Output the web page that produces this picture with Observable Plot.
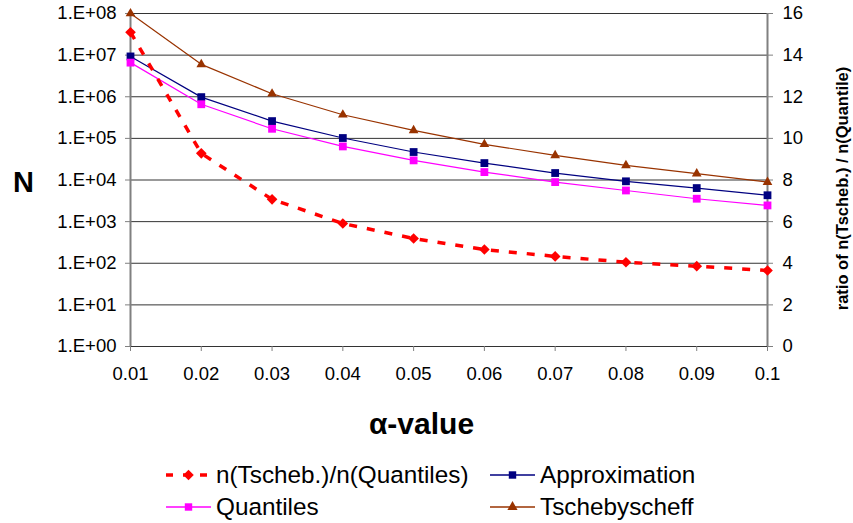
<!DOCTYPE html>
<html><head><meta charset="utf-8">
<script src="https://cdn.jsdelivr.net/npm/d3@7"></script>
<script src="https://cdn.jsdelivr.net/npm/@observablehq/plot@0.6"></script>
<style>
body{margin:0;background:#fff;font-family:"Liberation Sans",Arial,sans-serif;}
#legend{position:relative;height:83px;width:853px;}
.item{position:absolute;display:flex;align-items:center;height:30px;font-size:24.3px;color:#000;white-space:nowrap;}
.item svg{margin-right:5px;}
</style></head><body>
<div id="chart"></div>
<div id="legend"></div>
<script>
// categories
const alphas = [0.01, 0.02, 0.03, 0.04, 0.05, 0.06, 0.07, 0.08, 0.09, 0.1];
const xLabels = ["0.01","0.02","0.03","0.04","0.05","0.06","0.07","0.08","0.09","0.1"];
// series (left log axis)
const tscheb = [1e8, 6.0e6, 1.18e6, 3.7e5, 1.55e5, 7.2e4, 3.9e4, 2.24e4, 1.42e4, 8.9e3];
const approx = [9.3e6, 9.8e5, 2.6e5, 1.02e5, 4.7e4, 2.55e4, 1.47e4, 9.3e3, 6.4e3, 4.3e3];
const quant  = [6.6e6, 6.6e5, 1.7e5, 6.4e4, 2.96e4, 1.55e4, 8.9e3, 5.6e3, 3.55e3, 2.45e3];
// series (right linear axis)
const ratio  = [15.1, 9.28, 7.07, 5.91, 5.19, 4.66, 4.33, 4.05, 3.86, 3.65];
// tick values / labels
const leftTicks = [1, 10, 100, 1e3, 1e4, 1e5, 1e6, 1e7, 1e8];
const leftTickLabels = ["1.E+00","1.E+01","1.E+02","1.E+03","1.E+04","1.E+05","1.E+06","1.E+07","1.E+08"];
const rightTicks = [0, 2, 4, 6, 8, 10, 12, 14, 16];
const rightTickLabels = ["0","2","4","6","8","10","12","14","16"];
const rightMax = 16;

// map the secondary (linear 0..16) axis onto the primary log (1..1e8) scale
const toLeft = v => Math.pow(10, v * 8 / rightMax);

const rows = alphas.map((a, i) => ({a, tscheb: tscheb[i], approx: approx[i], quant: quant[i], ratio: ratio[i]}));
const rightTickPos = rightTicks.map(toLeft);

const C = {tscheb: "#993300", approx: "#000080", quant: "#FF00FF", ratio: "#FF0000"};
const font = '"Liberation Sans", Arial, sans-serif';

const chart = Plot.plot({
  width: 853, height: 440,
  marginLeft: 130, marginRight: 86, marginTop: 13, marginBottom: 94,
  style: {fontFamily: font, fontSize: "18px", color: "#000", background: "#fff"},
  x: {type: "linear", domain: [alphas[0], alphas[alphas.length - 1]]},
  y: {type: "log", domain: [leftTicks[0], leftTicks[leftTicks.length - 1]]},
  marks: [
    Plot.gridY(leftTicks, {stroke: "#000", strokeOpacity: 0.8, strokeWidth: 1}),
    Plot.ruleX([alphas[0], alphas[alphas.length - 1]], {stroke: "#808080", strokeWidth: 2}),
    Plot.axisY({anchor: "left", ticks: leftTicks, tickFormat: d => leftTickLabels[leftTicks.indexOf(d)],
      tickSize: 5, tickPadding: 9, label: null, stroke: "#808080", fontSize: 18.5}),
    Plot.axisY({anchor: "right", ticks: rightTickPos, tickFormat: d => rightTickLabels[rightTickPos.indexOf(d)],
      tickSize: 5, tickPadding: 10, label: null, stroke: "#808080", fontSize: 18.5}),
    Plot.axisX({ticks: alphas, tickFormat: d => xLabels[alphas.indexOf(d)],
      tickSize: 5, tickPadding: 15, label: null, stroke: "#808080", fontSize: 18.5}),
    // Tschebyscheff
    Plot.line(rows, {x: "a", y: "tscheb", stroke: C.tscheb, strokeWidth: 1.2}),
    Plot.dot(rows, {x: "a", y: "tscheb", symbol: "triangle", r: 3.6, fill: C.tscheb}),
    // Approximation
    Plot.line(rows, {x: "a", y: "approx", stroke: C.approx, strokeWidth: 1.2}),
    Plot.dot(rows, {x: "a", y: "approx", symbol: "square", r: 4.4, fill: C.approx}),
    // Quantiles
    Plot.line(rows, {x: "a", y: "quant", stroke: C.quant, strokeWidth: 1.2}),
    Plot.dot(rows, {x: "a", y: "quant", symbol: "square", r: 4.4, fill: C.quant}),
    // ratio (secondary axis)
    Plot.line(rows, {x: "a", y: d => toLeft(d.ratio), stroke: C.ratio, strokeWidth: 3.5,
      strokeDasharray: "8,10", strokeLinecap: "butt"}),
    Plot.dot(rows, {x: "a", y: d => toLeft(d.ratio), symbol: "diamond2", r: 4.8, fill: C.ratio}),
    // titles
    Plot.text(["N"], {text: d => d, frameAnchor: "left", textAnchor: "middle", lineAnchor: "middle",
      dx: -107, dy: 2.5, fontSize: 29, fontWeight: "bold"}),
    Plot.text(["α-value"], {text: d => d, frameAnchor: "bottom", textAnchor: "middle", lineAnchor: "middle",
      dx: -27.5, dy: 78, fontSize: 30, fontWeight: "bold"}),
    Plot.text(["ratio of n(Tscheb.) / n(Quantile)"], {text: d => d, frameAnchor: "right", textAnchor: "middle",
      lineAnchor: "middle", rotate: -90, dx: 75, dy: 8.5, fontSize: 16.5, fontWeight: "bold"})
  ]
});
document.getElementById("chart").appendChild(chart);

// legend
const legendItems = [
  {label: "n(Tscheb.)/n(Quantiles)", color: C.ratio, symbol: d3.symbolDiamond2, size: 70, dash: "7,10", width: 3.5, left: 166, top: 20},
  {label: "Approximation", color: C.approx, symbol: d3.symbolSquare, size: 55, dash: null, width: 1.5, left: 490, top: 20},
  {label: "Quantiles", color: C.quant, symbol: d3.symbolSquare, size: 55, dash: null, width: 1.5, left: 166, top: 51.5},
  {label: "Tschebyscheff", color: C.tscheb, symbol: d3.symbolTriangle, size: 45, dash: null, width: 1.5, left: 490, top: 51.5}
];
const legend = document.getElementById("legend");
for (const it of legendItems) {
  const div = document.createElement("div");
  div.className = "item";
  div.style.left = it.left + "px";
  div.style.top = it.top + "px";
  const ns = "http://www.w3.org/2000/svg";
  const svg = document.createElementNS(ns, "svg");
  svg.setAttribute("width", 45); svg.setAttribute("height", 20);
  const line = document.createElementNS(ns, "line");
  line.setAttribute("x1", 0); line.setAttribute("x2", 45);
  line.setAttribute("y1", 10); line.setAttribute("y2", 10);
  line.setAttribute("stroke", it.color); line.setAttribute("stroke-width", it.width);
  if (it.dash) line.setAttribute("stroke-dasharray", it.dash);
  svg.appendChild(line);
  const p = document.createElementNS(ns, "path");
  p.setAttribute("d", d3.symbol(it.symbol, it.size)());
  p.setAttribute("transform", "translate(22.5,10)");
  p.setAttribute("fill", it.color);
  svg.appendChild(p);
  div.appendChild(svg);
  const span = document.createElement("span");
  span.textContent = it.label;
  div.appendChild(span);
  legend.appendChild(div);
}
</script>
</body></html>
